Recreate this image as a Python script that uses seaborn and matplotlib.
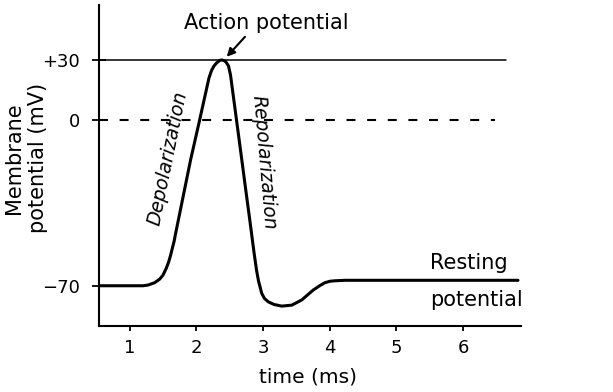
import numpy as np
import pandas as pd
import matplotlib
matplotlib.use("Agg")
import matplotlib.pyplot as plt
import seaborn as sns

# ---- data ----
time_ms = [0.541, 1.205, 1.276, 1.376, 1.451, 1.501, 1.550, 1.586, 1.616, 1.640,
           1.666, 1.685, 1.914, 2.050, 2.190, 2.228, 2.265, 2.310, 2.355, 2.381,
           2.415, 2.445, 2.483, 2.513, 2.543, 2.603, 2.663, 2.742, 2.808, 2.865,
           2.903, 2.933, 2.981, 3.023, 3.080, 3.165, 3.281, 3.431, 3.581, 3.754,
           3.855, 3.930, 4.005, 4.080, 4.230, 6.824]
potential_mv = [-70.0, -70.0, -69.7, -68.7, -67.2, -65.5, -62.6, -59.9, -57.0, -54.2,
                -51.4, -48.6, -16.9, 0.0, 21.0, 24.75, 27.0, 28.75, 29.85, 30.0,
                29.75, 29.0, 27.0, 22.5, 15.0, 0.0, -12.7, -29.6, -43.5, -55.8,
                -63.4, -68.0, -73.2, -75.4, -76.8, -77.9, -78.6, -78.2, -76.0, -71.8,
                -69.9, -68.7, -68.1, -67.9, -67.7, -67.7]
x_ticks = [1, 2, 3, 4, 5, 6]
y_ticks = [30, 0, -70]
y_tick_labels = ["+30", "0", "\u221270"]
peak_level = 30
zero_level = 0

df = pd.DataFrame({"time": time_ms, "mv": potential_mv})

sns.set_theme(style="ticks")
plt.rcParams["font.family"] = ["DejaVu Sans"]

fig = plt.figure(figsize=(6.13, 3.92), dpi=100)
ax = fig.add_axes([99 / 613, 66 / 392, 422 / 613, 321 / 392])

# schematic (piecewise-linear) voltage axis: negative part is stretched
K = 1.1836
def fwd(v):
    v = np.asarray(v, dtype=float)
    return np.where(v >= 0, v, v * K)
def inv(u):
    u = np.asarray(u, dtype=float)
    return np.where(u >= 0, u, u / K)
ax.set_yscale("function", functions=(fwd, inv))

sns.lineplot(data=df, x="time", y="mv", ax=ax, sort=False, estimator=None,
             color="black", linewidth=2.2)
for ln in ax.get_lines():
    ln.set_solid_joinstyle("round")

x0 = 0.541
ax.plot([x0, 6.644], [peak_level, peak_level], color="black", lw=1.1)
ax.plot([x0, 6.48], [zero_level, zero_level], color="black", lw=1.5,
        linestyle=(0, (4.3, 5.6)))

ax.set_xlim(0.541, 6.869)
ax.set_ylim(-87.0, 57.5)

ax.set_xticks(x_ticks)
ax.set_xticklabels([str(t) for t in x_ticks])
ax.set_yticks(y_ticks)
ax.set_yticklabels(y_tick_labels)
ax.minorticks_off()

ax.tick_params(axis="y", direction="inout", length=9.4, width=1.3,
               labelsize=13, pad=9, colors="black")
ax.tick_params(axis="x", direction="out", length=3.6, width=1.3,
               labelsize=13, pad=6, colors="black")

for s in ["top", "right"]:
    ax.spines[s].set_visible(False)
for s in ["left", "bottom"]:
    ax.spines[s].set_linewidth(1.5)
    ax.spines[s].set_color("black")

ax.set_xlabel("")
ax.set_ylabel("")

fig.text(308 / 613, 1 - 377 / 392, "time (ms)", ha="center", va="center",
         fontsize=14.5, color="black")
fig.text(26 / 613, 1 - 158 / 392, "Membrane\npotential (mV)", rotation=90,
         ha="center", va="center", multialignment="center", fontsize=15,
         color="black", linespacing=1.25)

ax.text(3.045, 48.5, "Action potential", ha="center", va="center",
        fontsize=15, color="black")
ax.annotate("", xy=(2.456, 31.6), xytext=(2.730, 41.6),
            arrowprops=dict(arrowstyle="-|>", lw=1.5, color="black",
                            mutation_scale=12, shrinkA=0, shrinkB=0))

ax.text(1.576, -16.05, "Depolarization", rotation=78.5, rotation_mode="anchor",
        ha="center", va="center", fontsize=13.5, style="italic", color="black")
ax.text(3.008, -17.7, "Repolarization", rotation=-85, rotation_mode="anchor",
        ha="center", va="center", fontsize=13.5, style="italic", color="black")

ax.text(5.504, -60.6, "Resting", ha="left", va="center", fontsize=15,
        color="black")
ax.text(5.504, -76.0, "potential", ha="left", va="center", fontsize=15,
        color="black")

fig.savefig("out.png", dpi=100)
